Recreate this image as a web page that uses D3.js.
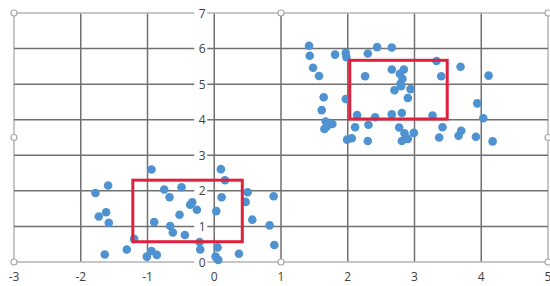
<!DOCTYPE html>
<html><head><meta charset="utf-8">
<script src="https://cdn.jsdelivr.net/npm/d3@7"></script>
<style>body{margin:0;background:#fff;}svg{display:block;}</style>
</head><body>
<svg id="c" width="550" height="286"></svg>
<script>
const xTicks = [-3,-2,-1,0,1,2,3,4,5];
const yTicks = [0,1,2,3,4,5,6,7];
const cluster1X = [-0.94,0.10,0.16,-1.59,-1.78,-0.75,-0.49,-0.67,0.50,0.11,0.47,0.89,-0.33,-0.36,-0.26,0.03,-0.52,-1.62,-1.73,-1.58,-0.90,-0.66,-0.62,-0.44,0.57,0.83,0.90,-1.20,-0.22,-0.21,0.05,-1.31,-1.64,-0.94,-1.01,-0.86,0.02,0.06,0.37];
const cluster1Y = [2.60,2.61,2.30,2.15,1.94,2.04,2.10,1.82,1.96,1.82,1.69,1.85,1.68,1.61,1.47,1.43,1.33,1.40,1.28,1.10,1.12,1.01,0.83,0.76,1.19,1.03,0.48,0.65,0.56,0.35,0.41,0.35,0.21,0.31,0.15,0.20,0.15,0.06,0.23];
const cluster2X = [1.42,1.43,1.81,1.97,1.98,2.30,2.44,2.66,1.48,1.57,2.26,2.66,2.84,2.78,2.82,2.79,2.70,2.80,2.94,2.90,3.33,3.69,3.40,4.11,1.64,1.97,1.61,2.14,2.41,2.66,2.81,3.27,3.94,4.03,1.67,1.77,1.69,1.65,2.11,2.31,2.77,2.85,2.99,2.81,2.90,3.42,3.70,3.66,3.92,3.37,4.17,1.99,2.06,2.30];
const cluster2Y = [6.08,5.80,5.83,5.88,5.76,5.86,6.04,6.03,5.46,5.23,5.22,5.41,5.41,5.29,5.15,5.01,4.83,4.94,4.86,4.61,5.65,5.49,5.22,5.24,4.63,4.58,4.27,4.13,4.07,4.15,4.19,4.12,4.46,4.04,3.95,3.88,3.82,3.74,3.79,3.86,3.78,3.62,3.63,3.40,3.46,3.79,3.69,3.55,3.52,3.50,3.39,3.44,3.48,3.40];
const boxX0 = [-1.22, 2.03];
const boxX1 = [0.42, 3.49];
const boxY0 = [0.57, 4.02];
const boxY1 = [2.30, 5.67];

const svg = d3.select("#c");
const x = d3.scaleLinear().domain([-3,5]).range([14,548]);
const y = d3.scaleLinear().domain([0,7]).range([262,13]);

const grid = svg.append("g");
grid.selectAll("line.v").data(xTicks).enter().append("line")
  .attr("x1",d=>x(d)).attr("x2",d=>x(d)).attr("y1",y(7)).attr("y2",y(0))
  .attr("stroke",d=>(d===-3||d===5)?"#b4b4b4":"#707070").attr("stroke-width",1.5);
grid.selectAll("line.h").data(yTicks).enter().append("line")
  .attr("y1",d=>y(d)).attr("y2",d=>y(d)).attr("x1",x(-3)).attr("x2",x(5))
  .attr("stroke",d=>(d===0||d===7)?"#b4b4b4":"#707070").attr("stroke-width",1.5);

const yl = svg.append("g");
yTicks.forEach(t=>{
  yl.append("rect").attr("x",x(0)-20).attr("y",y(t)-7).attr("width",13).attr("height",14).attr("fill","#fff");
  yl.append("text").attr("x",x(0)-12).attr("y",y(t)+4.5).attr("text-anchor","middle")
    .attr("font-family","'Open Sans',sans-serif").attr("font-size",12).attr("fill","#404040").text(t);
});
svg.append("g").selectAll("text").data(xTicks).enter().append("text")
  .attr("x",d=>x(d)).attr("y",281).attr("text-anchor","middle")
  .attr("font-family","'Open Sans',sans-serif").attr("font-size",12).attr("fill","#404040").text(d=>d);

const pts = cluster1X.map((v,i)=>[v,cluster1Y[i]]).concat(cluster2X.map((v,i)=>[v,cluster2Y[i]]));
svg.append("g").selectAll("circle").data(pts).enter().append("circle")
  .attr("cx",d=>x(d[0])).attr("cy",d=>y(d[1])).attr("r",4.3).attr("fill","#4e92d1");

svg.append("g").selectAll("rect").data(boxX0).enter().append("rect")
  .attr("x",(d,i)=>x(boxX0[i])).attr("y",(d,i)=>y(boxY1[i]))
  .attr("width",(d,i)=>x(boxX1[i])-x(boxX0[i])).attr("height",(d,i)=>y(boxY0[i])-y(boxY1[i]))
  .attr("fill","none").attr("stroke","#e0203c").attr("stroke-width",3);

const hx = [-3,1,5], hy=[0,3.5,7];
const handles=[];
hx.forEach(a=>hy.forEach(b=>{ if(!(a===1&&b===3.5)) handles.push([a,b]); }));
svg.append("g").selectAll("circle").data(handles).enter().append("circle")
  .attr("cx",d=>x(d[0])).attr("cy",d=>y(d[1])).attr("r",3)
  .attr("fill","#fff").attr("stroke","#a8a8a8").attr("stroke-width",1.2);
</script>
</body></html>
